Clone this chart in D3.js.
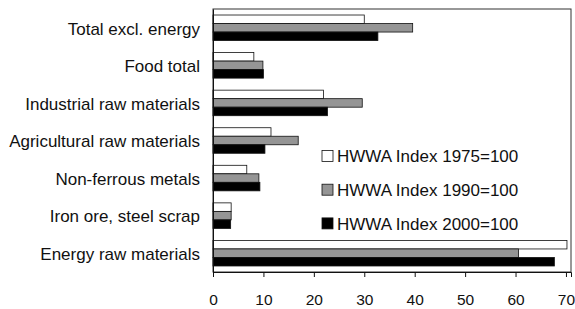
<!DOCTYPE html>
<html>
<head>
<meta charset="utf-8">
<script src="https://cdn.jsdelivr.net/npm/d3@7"></script>
<style>
body { margin: 0; background: #fff; }
text { font-family: "Liberation Sans", Arial, sans-serif; fill: #111; }
</style>
</head>
<body>
<svg id="chart" width="575" height="309"></svg>
<script>
var svg = d3.select("#chart")
var width = +svg.attr("width"), height = +svg.attr("height")
var margin = {left: 213, top: 9, right: 4, bottom: 37}

// Data
var categories = ["Total excl. energy", "Food total", "Industrial raw materials", "Agricultural raw materials",
    "Non-ferrous metals", "Iron ore, steel scrap", "Energy raw materials"]
var seriesNames = ["HWWA Index 1975=100", "HWWA Index 1990=100", "HWWA Index 2000=100"]
var index1975 = [30.0, 8.1, 21.9, 11.5, 6.7, 3.6, 70.2]
var index1990 = [39.6, 9.9, 29.6, 16.9, 9.1, 3.6, 60.6]
var index2000 = [32.7, 10.0, 22.7, 10.3, 9.3, 3.5, 67.7]
var xTicks = [0, 10, 20, 30, 40, 50, 60, 70]
var colors = ["#ffffff", "#959595", "#000000"]

var series = [index1975, index1990, index2000]
var rows = categories.map((c, i) => ({name: c, values: series.map((s, j) => ({key: j, value: s[i]}))}))

var plotRight = width - margin.right, plotBottom = height - margin.bottom
var x = d3.scaleLinear().domain([0, 71]).range([margin.left, plotRight])
var y = d3.scaleBand().domain(categories).range([margin.top, plotBottom]).paddingInner(0.32).paddingOuter(0.16)
var yInner = d3.scaleBand().domain([0, 1, 2]).range([0, y.bandwidth()])

// frame
svg.append("rect")
    .attr("x", margin.left).attr("y", margin.top)
    .attr("width", plotRight - margin.left).attr("height", plotBottom - margin.top)
    .attr("fill", "none").attr("stroke", "#333").attr("stroke-width", 1)

// bars
var groups = svg.selectAll(".group").data(rows).enter().append("g")
    .attr("transform", d => "translate(0," + y(d.name) + ")")
groups.selectAll("rect").data(d => d.values).enter().append("rect")
    .attr("x", x(0))
    .attr("y", d => yInner(d.key))
    .attr("width", d => x(d.value) - x(0))
    .attr("height", yInner.bandwidth())
    .attr("fill", d => colors[d.key])
    .attr("stroke", "#111").attr("stroke-width", 0.8)

// x axis
var xAxis = svg.append("g").attr("transform", "translate(0," + plotBottom + ")")
    .call(d3.axisBottom(x).tickValues(xTicks).tickSize(5).tickPadding(17))
xAxis.select(".domain").attr("stroke", "#111")
xAxis.selectAll("line").attr("stroke", "#111")
xAxis.selectAll("text").style("font-size", "15.5px").attr("fill", "#111")

// y axis labels
var yAxis = svg.append("g").attr("transform", "translate(" + margin.left + ",0)")
    .call(d3.axisLeft(y).tickSize(0).tickPadding(13))
yAxis.select(".domain").attr("stroke", "#111")
yAxis.selectAll("text").style("font-size", "17px").attr("fill", "#111").attr("dy", "0.4em")

// legend
var legend = svg.append("g").attr("transform", "translate(322,156)")
var items = legend.selectAll("g").data(seriesNames).enter().append("g")
    .attr("transform", (d, i) => "translate(0," + i * 33.7 + ")")
items.append("rect")
    .attr("x", 0).attr("y", -5.5).attr("width", 11).attr("height", 11)
    .attr("fill", (d, i) => colors[i]).attr("stroke", "#111").attr("stroke-width", 0.8)
items.append("text")
    .attr("x", 15).attr("dy", "0.36em")
    .style("font-size", "17px")
    .text(d => d)
</script>
</body>
</html>
